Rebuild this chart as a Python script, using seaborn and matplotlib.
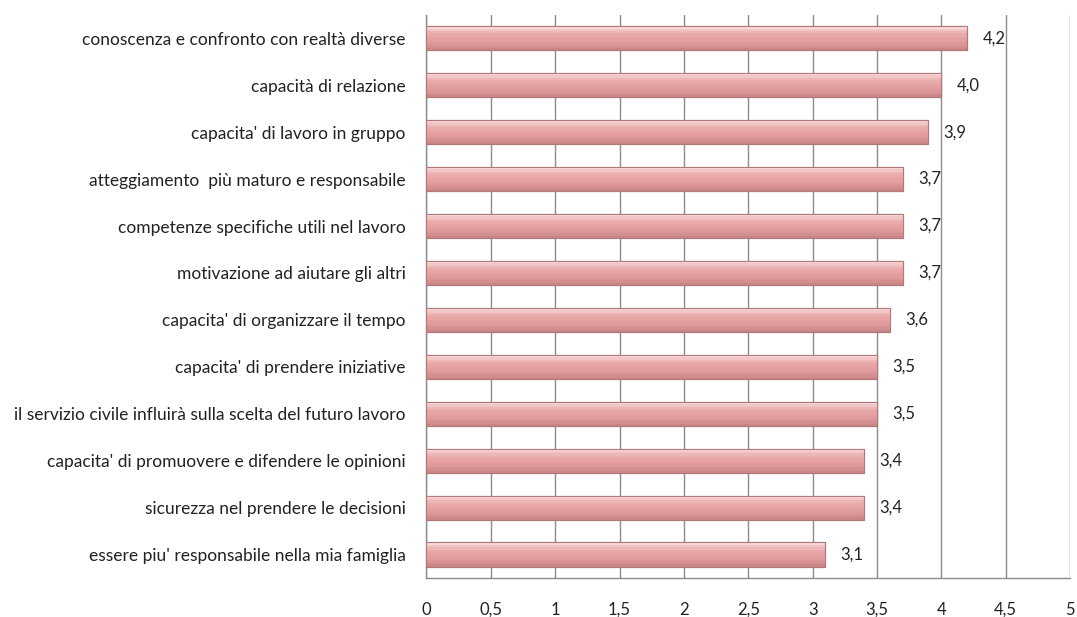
import matplotlib
matplotlib.use("Agg")
import matplotlib.pyplot as plt
import pandas as pd
import seaborn as sns

categories = [
    "conoscenza e confronto con realtà diverse",
    "capacità di relazione",
    "capacita' di lavoro in gruppo",
    "atteggiamento  più maturo e responsabile",
    "competenze specifiche utili nel lavoro",
    "motivazione ad aiutare gli altri",
    "capacita' di organizzare il tempo",
    "capacita' di prendere iniziative",
    "il servizio civile influirà sulla scelta del futuro lavoro",
    "capacita' di promuovere e difendere le opinioni",
    "sicurezza nel prendere le decisioni",
    "essere piu' responsabile nella mia famiglia",
]
values = [4.2, 4.0, 3.9, 3.7, 3.7, 3.7, 3.6, 3.5, 3.5, 3.4, 3.4, 3.1]
x_ticks = [0, 0.5, 1, 1.5, 2, 2.5, 3, 3.5, 4, 4.5, 5]

df = pd.DataFrame({"label": categories, "value": values})

sns.set_style("white")
plt.rcParams["font.family"] = ["Lato", "DejaVu Sans"]

fig, ax = plt.subplots(figsize=(10.77, 6.17), dpi=100)
fig.subplots_adjust(left=0.396, right=0.9935, top=0.976, bottom=0.063)

sns.barplot(data=df, x="value", y="label", orient="h", color="#E6A2A2",
            width=0.52, edgecolor="#B07878", linewidth=0.8, saturation=1,
            ax=ax, zorder=3)

# gradient bands (top light -> bottom darker) for the bevelled look
shades = ["#F8DADA", "#F2C6C6", "#ECB6B6", "#E8AAAA", "#E6A4A4",
          "#E4A0A0", "#E09C9C", "#DA9696", "#D38F8F", "#C98686"]
n = len(shades)
for patch in ax.patches[:len(values)]:
    x0, y0 = patch.get_x(), patch.get_y()
    w, h = patch.get_width(), patch.get_height()
    for i, c in enumerate(shades):
        ax.add_patch(plt.Rectangle((x0, y0 + i * h / n), w, h / n,
                                   facecolor=c, edgecolor="none", zorder=4))
    ax.add_patch(plt.Rectangle((x0, y0), w, h, facecolor="none",
                               edgecolor="#B07878", linewidth=0.8, zorder=5))

ax.bar_label(ax.containers[0], labels=[f"{v:.1f}".replace(".", ",") for v in values],
             padding=11, fontsize=12, color="#222222")

ax.set_xlim(0, 5)
ax.set_ylim(11.5, -0.5)
ax.set_xticks(x_ticks)
ax.set_xticklabels([str(t).replace(".", ",") for t in x_ticks], fontsize=12, color="#222222")
ax.tick_params(axis="x", length=5, color="#888888", pad=12, direction="out")
ax.tick_params(axis="y", length=0, labelsize=12.5, labelcolor="#222222", pad=15)
ax.set_xlabel("")
ax.set_ylabel("")
ax.xaxis.grid(True, color="#8C8C8C", linewidth=1)
ax.set_axisbelow(True)
for side in ["top", "right"]:
    ax.spines[side].set_visible(False)
for side in ["left", "bottom"]:
    ax.spines[side].set_color("#8C8C8C")
    ax.spines[side].set_linewidth(1)

plt.savefig("out.png", dpi=100)
